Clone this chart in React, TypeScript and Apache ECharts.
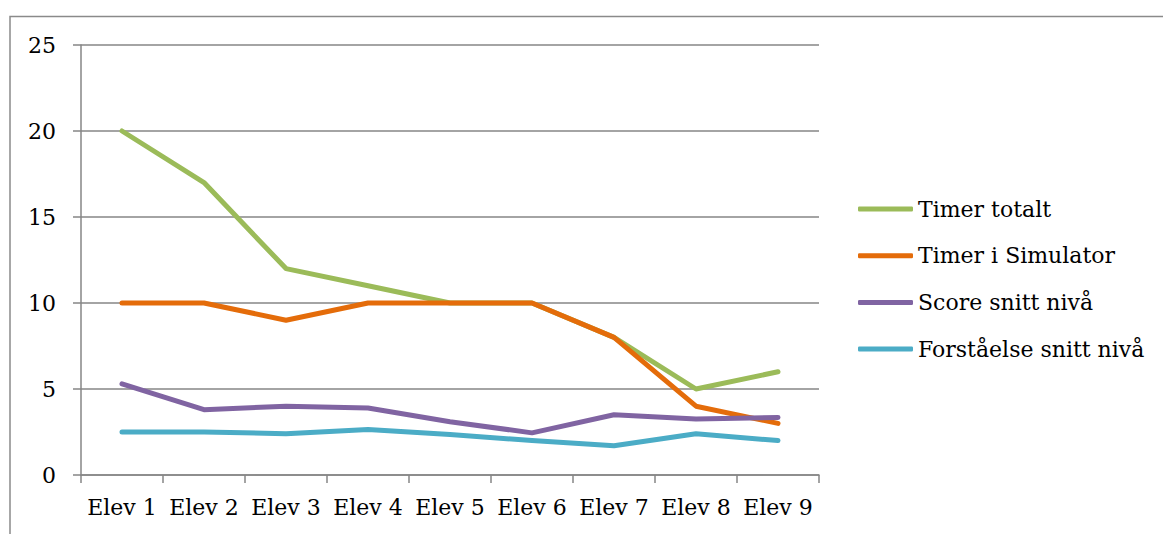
import React, { useEffect, useRef } from "react";
import * as echarts from "echarts";

const categories = ["Elev 1", "Elev 2", "Elev 3", "Elev 4", "Elev 5", "Elev 6", "Elev 7", "Elev 8", "Elev 9"];
const timerTotalt = [20, 17, 12, 11, 10, 10, 8, 5, 6];
const timerSimulator = [10, 10, 9, 10, 10, 10, 8, 4, 3];
const scoreSnitt = [5.3, 3.8, 4.0, 3.9, 3.1, 2.45, 3.5, 3.25, 3.35];
const forstaelseSnitt = [2.5, 2.5, 2.4, 2.65, 2.35, 2.0, 1.7, 2.4, 2.0];

const FONT = "DejaVu Serif";
const GRAY = "#868686";

export default function App() {
  const ref = useRef<HTMLDivElement>(null);

  useEffect(() => {
    if (!ref.current) return;
    const chart = echarts.init(ref.current, undefined, { renderer: "svg" });
    const mk = (name: string, data: number[], color: string) => ({
      name,
      type: "line",
      data,
      symbol: "none",
      lineStyle: { color, width: 5, cap: "round", join: "round" },
      itemStyle: { color },
    });
    chart.setOption({
      animation: false,
      backgroundColor: "#ffffff",
      graphic: [
        {
          type: "polyline",
          shape: { points: [[10, 600], [10, 16.5], [1200, 16.5]] },
          style: { stroke: "#8a8a8a", lineWidth: 1.5, fill: "none" },
          silent: true,
        },
      ],
      grid: { left: 81, top: 45, width: 738, height: 430, containLabel: false },
      legend: {
        orient: "vertical",
        left: 853,
        top: 191,
        icon: "roundRect",
        itemWidth: 55,
        itemHeight: 5,
        itemGap: 20.7,
        textStyle: { fontFamily: FONT, fontSize: 22, color: "#000", lineHeight: 26 },
        data: ["Timer totalt", "Timer i Simulator", "Score snitt nivå", "Forståelse snitt nivå"],
      },
      xAxis: {
        type: "category",
        data: categories,
        boundaryGap: true,
        axisLine: { lineStyle: { color: GRAY, width: 1.5 } },
        axisTick: { show: true, length: 8, alignWithLabel: false, lineStyle: { color: GRAY, width: 1.5 } },
        axisLabel: { fontFamily: FONT, fontSize: 22, color: "#000", margin: 21, interval: 0 },
        splitLine: { show: false },
      },
      yAxis: {
        type: "value",
        min: 0,
        max: 25,
        interval: 5,
        axisLine: { show: true, lineStyle: { color: GRAY, width: 1.5 } },
        axisTick: { show: true, length: 8, lineStyle: { color: GRAY, width: 1.5 } },
        axisLabel: { fontFamily: FONT, fontSize: 22, color: "#000", margin: 25 },
        splitLine: { show: true, lineStyle: { color: GRAY, width: 1.5 } },
      },
      series: [
        mk("Timer totalt", timerTotalt, "#9BBB59"),
        mk("Timer i Simulator", timerSimulator, "#E46C0A"),
        mk("Score snitt nivå", scoreSnitt, "#8064A2"),
        mk("Forståelse snitt nivå", forstaelseSnitt, "#4BACC6"),
      ],
    });
    return () => chart.dispose();
  }, []);

  return (
    <div
      ref={ref}
      style={{ position: "fixed", left: 0, top: 0, width: 1163, height: 534, background: "#fff" }}
    />
  );
}
